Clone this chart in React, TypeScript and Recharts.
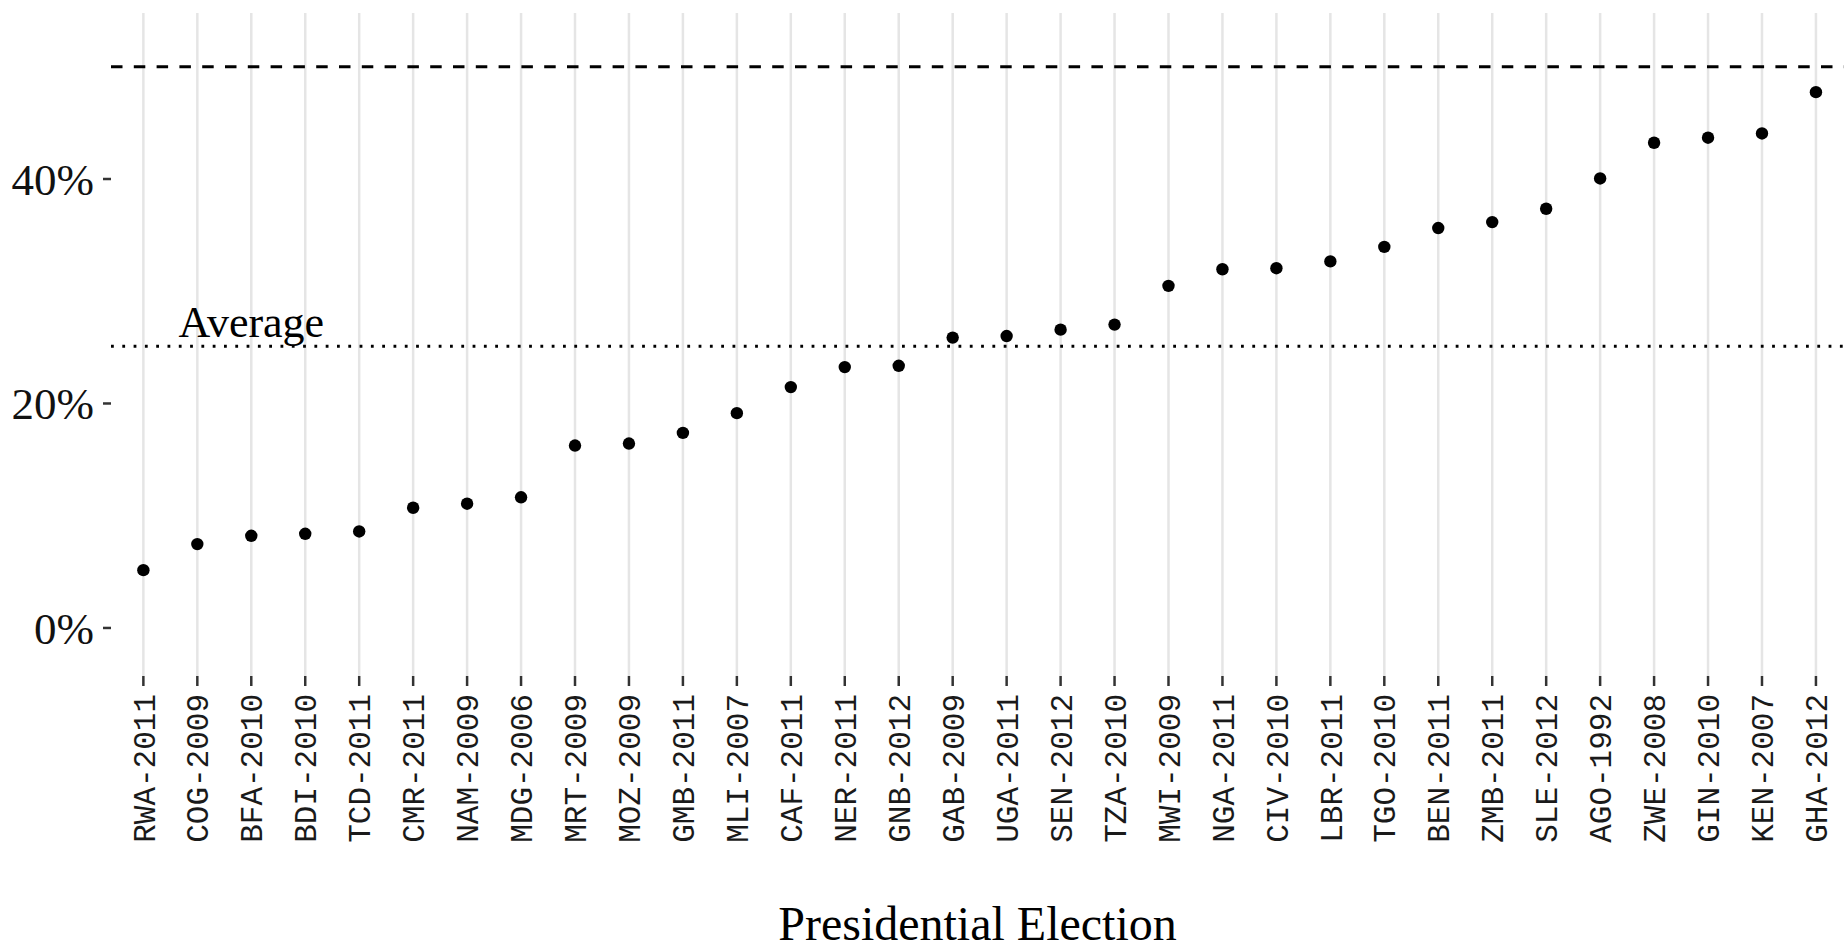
import { ScatterChart, Scatter, XAxis, YAxis, CartesianGrid, ReferenceLine, ReferenceDot } from 'recharts';

const elections = [
    'RWA-2011', 'COG-2009', 'BFA-2010', 'BDI-2010', 'TCD-2011', 'CMR-2011', 'NAM-2009', 'MDG-2006',
    'MRT-2009', 'MOZ-2009', 'GMB-2011', 'MLI-2007', 'CAF-2011', 'NER-2011', 'GNB-2012', 'GAB-2009',
    'UGA-2011', 'SEN-2012', 'TZA-2010', 'MWI-2009', 'NGA-2011', 'CIV-2010', 'LBR-2011', 'TGO-2010',
    'BEN-2011', 'ZMB-2011', 'SLE-2012', 'AGO-1992', 'ZWE-2008', 'GIN-2010', 'KEN-2007', 'GHA-2012'
];

const shares = [
    5.15, 7.47, 8.21, 8.39, 8.6, 10.71, 11.07, 11.64,
    16.25, 16.43, 17.38, 19.14, 21.46, 23.24, 23.36, 25.87,
    26.01, 26.58, 27.03, 30.48, 31.96, 32.05, 32.66, 33.95,
    35.63, 36.16, 37.35, 40.05, 43.23, 43.68, 44.06, 47.74
];

const yTicks = [0, 20, 40];
const AVERAGE = 25.1;
const MAJORITY = 50;
const AVERAGE_LABEL_POS = 3;

const data = elections.map((name, i) => ({ pos: i + 1, name, share: shares[i] }));
const xTicks = elections.map((_, i) => i + 1);

const SERIF = '"Liberation Serif", "Times New Roman", serif';
const MONO = '"Liberation Mono", "Courier New", monospace';

function ElectionTick(props: any) {
    const { x, y, payload } = props;
    return (
        <text
            transform={`translate(${x},${y}) rotate(-90)`}
            textAnchor="end"
            dy="0.36em"
            fontFamily={MONO}
            fontSize={31}
            fill="#1a1a1a"
        >
            {elections[payload.value - 1]}
        </text>
    );
}

function AverageLabel(props: any) {
    const { viewBox } = props;
    const cx = viewBox.x + viewBox.width / 2;
    const cy = viewBox.y + viewBox.height / 2;
    return (
        <text x={cx} y={cy - 9.5} textAnchor="middle" fontFamily={SERIF} fontSize={44} fill="#000">
            Average
        </text>
    );
}

function AxisTitle(props: any) {
    const { viewBox } = props;
    return (
        <text x={viewBox.x + viewBox.width / 2} y={940} textAnchor="middle" fontFamily={SERIF} fontSize={48} fill="#000">
            Presidential Election
        </text>
    );
}

export default function App() {
    return (
        <div>
            <style>{'body{margin:0}'}</style>
            <ScatterChart width={1844} height={950} margin={{ top: 13, right: 0, left: 0, bottom: 0 }}>
                <CartesianGrid horizontal={false} syncWithTicks stroke="#e5e5e5" strokeWidth={2.5} />
                <XAxis
                    type="number"
                    dataKey="pos"
                    domain={[0.4, 32.52]}
                    ticks={xTicks}
                    interval={0}
                    height={274}
                    axisLine={false}
                    tickLine={{ stroke: '#333', strokeWidth: 2.5 }}
                    tickSize={10}
                    tickMargin={8}
                    tick={<ElectionTick />}
                    label={(p: any) => <AxisTitle {...p} />}
                />
                <YAxis
                    type="number"
                    dataKey="share"
                    domain={[-4.28, 54.79]}
                    ticks={yTicks}
                    width={111}
                    axisLine={false}
                    tickLine={{ stroke: '#333', strokeWidth: 2.5 }}
                    tickSize={8}
                    tickMargin={9}
                    tickFormatter={(v) => `${v}%`}
                    tick={{ fill: '#111', fontSize: 45, fontFamily: SERIF }}
                />
                <ReferenceLine y={MAJORITY} stroke="#000" strokeWidth={2.8} strokeDasharray="11.5 11.3" />
                <ReferenceLine y={AVERAGE} stroke="#000" strokeWidth={2.8} strokeDasharray="2.8 8.5" />
                <ReferenceDot
                    x={AVERAGE_LABEL_POS}
                    y={AVERAGE}
                    r={1}
                    fill="none"
                    stroke="none"
                    label={(p: any) => <AverageLabel {...p} />}
                />
                <Scatter
                    data={data}
                    isAnimationActive={false}
                    shape={(p: any) => <circle cx={p.cx} cy={p.cy} r={6.2} fill="#000" />}
                />
            </ScatterChart>
        </div>
    );
}
